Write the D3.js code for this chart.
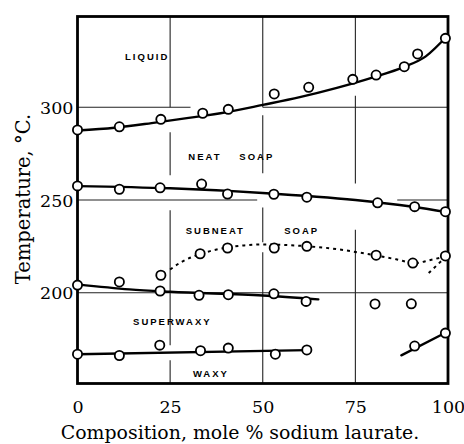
<!DOCTYPE html>
<html>
<head>
<meta charset="utf-8">
<script src="https://cdn.jsdelivr.net/npm/d3@7/dist/d3.min.js"></script>
<style>
  html, body { margin: 0; padding: 0; background: #fff; }
  svg { display: block; }
</style>
</head>
<body>
<svg id="chart" width="464" height="444"></svg>
<script>
// ---------- data ----------
const xTicks = [0, 25, 50, 75, 100];
const yTicks = [200, 250, 300];

// liquid / neat soap boundary
const liquidusPtsX = [0, 11.3, 22.5, 33.8, 40.7, 53.1, 62.4, 74.3, 80.6, 88.2, 91.8, 99.3];
const liquidusPtsY = [287.8, 289.5, 293.5, 296.8, 298.9, 307.2, 310.8, 315.1, 317.4, 321.9, 328.8, 337.2];
const liquidusLineX = [0, 10, 20, 30, 40, 50, 60, 70, 80, 88, 94, 100];
const liquidusLineY = [287.5, 289, 291.5, 294.3, 297.3, 301.3, 305.5, 310.5, 316.3, 321.7, 327.5, 339];

// neat / subneat boundary
const neatPtsX = [0, 11.3, 22.3, 33.5, 40.5, 53, 61.9, 81, 91, 99.3];
const neatPtsY = [257.6, 255.8, 256.6, 258.6, 253.2, 253.1, 251.5, 248.5, 246.4, 243.7];
const neatLineX = [0, 25, 50, 75, 90, 100];
const neatLineY = [257.5, 256.3, 253.8, 250, 246.5, 243.3];

// subneat upper transition (dotted)
const subneatPtsX = [22.5, 33.1, 40.5, 53.1, 61.9, 80.6, 90.5, 99.3];
const subneatPtsY = [209.4, 221, 224.1, 224.1, 225, 220.2, 216, 219.8];
const subneatLineX = [25, 28, 31, 35, 40, 45, 50, 60, 70, 75, 80, 86, 91, 95, 100];
const subneatLineY = [212.5, 216.5, 219.3, 222, 224.3, 225.5, 226, 225.3, 223.5, 222, 220.3, 218, 216, 217.5, 220];
const subneatBranchX = [99.5, 94.2];
const subneatBranchY = [219.5, 209.5];

// subneat / superwaxy boundary
const superPtsX = [0, 11.3, 22.3, 32.8, 40.7, 53, 61.7];
const superPtsY = [204.1, 205.8, 200.9, 198.6, 198.9, 199.4, 195.3];
const superLineX = [0, 14, 25, 50, 65];
const superLineY = [204.5, 201.8, 200.5, 198.5, 196.4];

// superwaxy / waxy boundary
const waxyPtsX = [0, 11.3, 22.2, 33.2, 40.7, 53.4, 61.9];
const waxyPtsY = [166.8, 166.1, 171.7, 168.7, 170.1, 166.8, 169.1];
const waxyLineX = [0, 62];
const waxyLineY = [166.8, 169];

// isolated points
const loosePtsX = [80.3, 90.1];
const loosePtsY = [193.9, 194];

// lower right segment
const rightPtsX = [91, 99.3];
const rightPtsY = [171.2, 178.2];
const rightLineX = [87.4, 99.7];
const rightLineY = [166.2, 178.8];

// broken grid lines (data units)
const hGridY = [300, 300, 250, 250, 200];
const hGridX0 = [0, 50, 0, 86.3, 0];
const hGridX1 = [30.5, 100, 48.5, 100, 100];
const vGridX = [25, 25, 25, 25, 50, 50, 50, 50, 75, 75, 75];
const vGridY0 = [300, 263.4, 171.6, 151, 300, 264.4, 227.2, 151, 315.5, 258.9, 151];
const vGridY1 = [349, 286.5, 244.5, 163.5, 349, 295.7, 246, 221.8, 349, 306.3, 234];

// region labels
const regionNames = ["LIQUID", "NEAT", "SOAP", "SUBNEAT", "SOAP", "SUPERWAXY", "WAXY"];
const regionX = [18.8, 34.4, 48.4, 37.2, 60.5, 25.6, 36];
const regionY = [327.2, 273.2, 273.2, 233.3, 233.3, 184.2, 156.1];

// ---------- chart ----------
const svg = d3.select("#chart");
const x = d3.scaleLinear().domain([0, 100]).range([77.5, 448]);
const y = d3.scaleLinear().domain([151, 349]).range([383.5, 16.5]);

const zip = (xs, ys) => xs.map((v, i) => [v, ys[i]]);
const line = d3.line().x(d => x(d[0])).y(d => y(d[1]));
const smooth = d3.line().x(d => x(d[0])).y(d => y(d[1])).curve(d3.curveMonotoneX);

// grid
const g = svg.append("g").attr("stroke", "#222").attr("stroke-width", 1.1);
hGridY.forEach((v, i) => {
  g.append("line").attr("x1", x(hGridX0[i])).attr("x2", x(hGridX1[i]))
    .attr("y1", y(v)).attr("y2", y(v));
});
vGridX.forEach((v, i) => {
  g.append("line").attr("x1", x(v)).attr("x2", x(v))
    .attr("y1", y(vGridY0[i])).attr("y2", y(vGridY1[i]));
});

// frame
svg.append("rect")
  .attr("x", x(0)).attr("y", y(349))
  .attr("width", x(100) - x(0)).attr("height", y(151) - y(349))
  .attr("fill", "none").attr("stroke", "#000").attr("stroke-width", 2.8);

// axes (labels only, tick lines hidden)
const xAxis = d3.axisBottom(x).tickValues(xTicks).tickSize(0).tickPadding(0);
const xa = svg.append("g").attr("transform", `translate(0,${y(151)})`).call(xAxis);
xa.select(".domain").remove();
xa.selectAll("text").attr("y", 17).attr("dy", "0.71em")
  .style("font-family", "DejaVu Serif").style("font-size", "17.5px").attr("fill", "#000");

const yAxis = d3.axisLeft(y).tickValues(yTicks).tickSize(0).tickPadding(0);
const ya = svg.append("g").attr("transform", `translate(${x(0)},0)`).call(yAxis);
ya.select(".domain").remove();
ya.selectAll("text").attr("x", -4).attr("dy", "0.36em")
  .style("font-family", "DejaVu Serif").style("font-size", "17.5px").attr("fill", "#000");

// axis titles
svg.append("text")
  .attr("x", 240).attr("y", 439).attr("text-anchor", "middle")
  .style("font-family", "DejaVu Serif").style("font-size", "18.9px")
  .text("Composition, mole % sodium laurate.");
svg.append("text")
  .attr("transform", "translate(30,199) rotate(-90)").attr("text-anchor", "middle")
  .style("font-family", "DejaVu Serif").style("font-size", "19.5px")
  .text("Temperature, °C.");

// data lines
const lines = svg.append("g").attr("fill", "none").attr("stroke", "#000")
  .attr("stroke-width", 2.4).attr("stroke-linecap", "round");
lines.append("path").attr("d", smooth(zip(liquidusLineX, liquidusLineY)));
lines.append("path").attr("d", smooth(zip(neatLineX, neatLineY)));
lines.append("path").attr("d", smooth(zip(superLineX, superLineY)));
lines.append("path").attr("d", line(zip(waxyLineX, waxyLineY)));
lines.append("path").attr("d", line(zip(rightLineX, rightLineY)));
lines.append("path").attr("d", smooth(zip(subneatLineX, subneatLineY)))
  .attr("stroke-width", 2).attr("stroke-dasharray", "3,4").attr("stroke-linecap", "butt");
lines.append("path").attr("d", line(zip(subneatBranchX, subneatBranchY)))
  .attr("stroke-width", 2).attr("stroke-dasharray", "3,4").attr("stroke-linecap", "butt");

// markers
const allPts = [].concat(
  zip(liquidusPtsX, liquidusPtsY), zip(neatPtsX, neatPtsY), zip(subneatPtsX, subneatPtsY),
  zip(superPtsX, superPtsY), zip(waxyPtsX, waxyPtsY), zip(loosePtsX, loosePtsY),
  zip(rightPtsX, rightPtsY));
svg.append("g").selectAll("circle").data(allPts).join("circle")
  .attr("cx", d => x(d[0])).attr("cy", d => y(d[1])).attr("r", 4.6)
  .attr("fill", "#fff").attr("stroke", "#000").attr("stroke-width", 1.8);

// region labels
svg.append("g").selectAll("text").data(regionNames).join("text")
  .attr("x", (d, i) => x(regionX[i])).attr("y", (d, i) => y(regionY[i]))
  .attr("dy", "0.36em").attr("text-anchor", "middle")
  .style("font-family", "Liberation Sans").style("font-weight", "bold")
  .style("font-size", "9.5px").style("letter-spacing", "2px")
  .text(d => d);
</script>
</body>
</html>
